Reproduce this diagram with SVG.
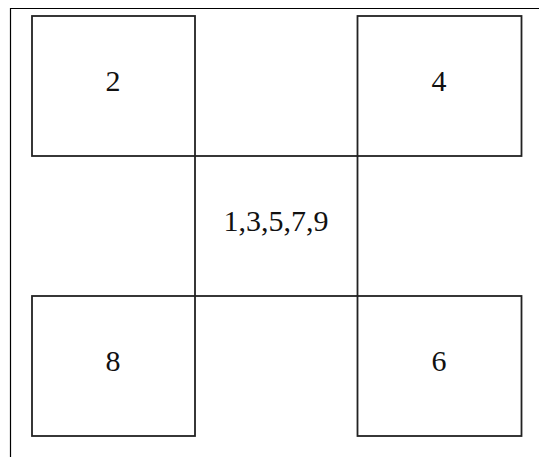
<svg xmlns="http://www.w3.org/2000/svg" width="539" height="457" viewBox="0 0 539 457">
<style>
.box{fill:#fff;stroke:#222;stroke-width:1.8}
.frame{stroke:#000;stroke-width:1.2;fill:none}
.lbl{font-family:"Liberation Serif","Times New Roman",serif;font-size:30px;fill:#111;text-anchor:middle}
</style>
<rect width="539" height="457" fill="#fff"/>
<g id="frame">
<path class="frame" d="M10.5,457 V8.5 H539"/>
</g>
<g id="node-center">
<rect class="box" x="195" y="156" width="162.5" height="140"/>
<text class="lbl" x="276" y="230.5">1,3,5,7,9</text>
</g>
<g id="node-2">
<rect class="box" x="32" y="16" width="163" height="140"/>
<text class="lbl" x="113" y="90.5">2</text>
</g>
<g id="node-4">
<rect class="box" x="357.5" y="16" width="164" height="140"/>
<text class="lbl" x="439" y="90.5">4</text>
</g>
<g id="node-8">
<rect class="box" x="32" y="296" width="163" height="140"/>
<text class="lbl" x="113" y="370.5">8</text>
</g>
<g id="node-6">
<rect class="box" x="357.5" y="296" width="164" height="140"/>
<text class="lbl" x="439" y="370.5">6</text>
</g>
<g id="connectors"></g>
</svg>
